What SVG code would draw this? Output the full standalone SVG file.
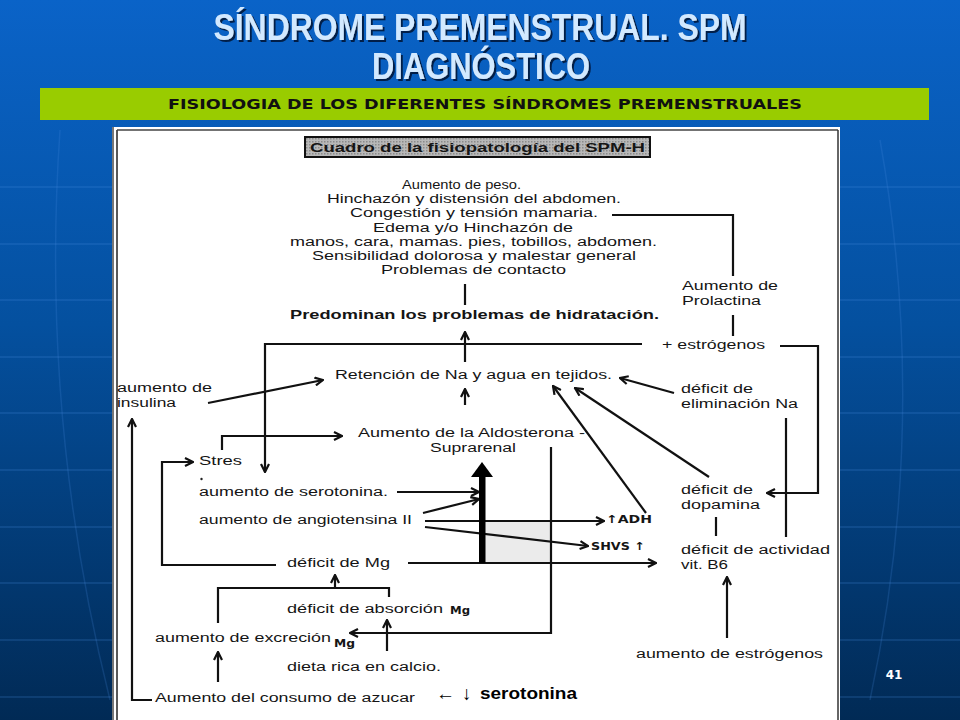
<svg xmlns="http://www.w3.org/2000/svg" width="960" height="720" viewBox="0 0 960 720">
<defs>
<linearGradient id="bg" x1="0" y1="0" x2="0" y2="1">
<stop offset="0" stop-color="#0a63c8"/>
<stop offset="0.45" stop-color="#04509f"/>
<stop offset="1" stop-color="#012a55"/>
</linearGradient>
<pattern id="hatch" width="3" height="3" patternUnits="userSpaceOnUse">
<rect width="3" height="3" fill="#b8b8b8"/>
<rect width="1.5" height="1.5" fill="#8a8a8a"/>
</pattern>
<marker id="ah" viewBox="0 0 10 10" markerWidth="10" markerHeight="10" refX="9" refY="5" orient="auto" markerUnits="userSpaceOnUse">
<path d="M1,1 L9,5 L1,9" fill="none" stroke="#111" stroke-width="2.2"/>
</marker>
<filter id="sh" x="-5%" y="-20%" width="110%" height="140%">
<feDropShadow dx="2" dy="2" stdDeviation="0.6" flood-color="#00183a" flood-opacity="0.9"/>
</filter>
</defs>
<style>
.t{font-family:"Liberation Sans",Arial,sans-serif;font-size:12.5px;fill:#151515}
.b{font-weight:bold}
.hw{font-family:"DejaVu Sans",sans-serif;font-size:11px;font-weight:bold;fill:#151515}
.ln{fill:none;stroke:#111;stroke-width:2.2}
.ar{fill:none;stroke:#111;stroke-width:2.2;marker-end:url(#ah)}
.bgl{stroke:#4a8ee0;stroke-width:1.5;opacity:0.25}
</style>
<rect width="960" height="720" fill="url(#bg)"/>
<g id="background-lines">
<line class="bgl" x1="0" y1="187" x2="960" y2="187"/>
<line class="bgl" x1="0" y1="244" x2="960" y2="244"/>
<line class="bgl" x1="0" y1="300" x2="960" y2="300"/>
<line class="bgl" x1="0" y1="357" x2="960" y2="357"/>
<line class="bgl" x1="0" y1="413" x2="960" y2="413"/>
<line class="bgl" x1="0" y1="470" x2="960" y2="470"/>
<line class="bgl" x1="0" y1="527" x2="960" y2="527"/>
<line class="bgl" x1="0" y1="583" x2="960" y2="583"/>
<line class="bgl" x1="0" y1="640" x2="960" y2="640"/>
<line class="bgl" x1="0" y1="697" x2="960" y2="697"/>
<path d="M60,130 Q40,420 110,700" fill="none" stroke="#4a8ee0" stroke-width="1.5" opacity="0.2"/>
<path d="M880,140 Q930,420 870,700" fill="none" stroke="#4a8ee0" stroke-width="1.5" opacity="0.2"/>
</g>
<g id="title">
<text x="480" y="40" text-anchor="middle" font-family="Liberation Sans,Arial,sans-serif" font-size="36" font-weight="bold" fill="#d2e9ff" filter="url(#sh)" textLength="533" lengthAdjust="spacingAndGlyphs">SÍNDROME PREMENSTRUAL. SPM</text>
<text x="481" y="79" text-anchor="middle" font-family="Liberation Sans,Arial,sans-serif" font-size="36" font-weight="bold" fill="#d2e9ff" filter="url(#sh)" textLength="218" lengthAdjust="spacingAndGlyphs">DIAGNÓSTICO</text>
</g>
<g id="subtitle-bar">
<rect x="40" y="88" width="889" height="32" fill="#99cc00"/>
<text x="485" y="109" text-anchor="middle" font-family="DejaVu Sans,Verdana,sans-serif" font-size="14" font-weight="bold" fill="#111" textLength="634" lengthAdjust="spacingAndGlyphs">FISIOLOGIA DE LOS DIFERENTES SÍNDROMES PREMENSTRUALES</text>
</g>
<g id="scan-frame">
<rect x="112" y="127" width="728" height="593" fill="#ffffff"/>
<line x1="113" y1="127" x2="113" y2="720" stroke="#777" stroke-width="2"/>
<line x1="117" y1="130" x2="117" y2="720" stroke="#222" stroke-width="1.5"/>
<line x1="117" y1="130" x2="838" y2="130" stroke="#444" stroke-width="1.5"/>
<line x1="838" y1="130" x2="838" y2="720" stroke="#333" stroke-width="1.5"/>
<rect x="485" y="521" width="66" height="42" fill="#ebebeb"/>
<circle cx="201.5" cy="479" r="1.2" fill="#222"/>
</g>
<g id="header">
<rect x="305" y="137" width="345" height="20" fill="url(#hatch)" stroke="#111" stroke-width="2"/>
<text class="t b" x="310" y="152" textLength="335" lengthAdjust="spacingAndGlyphs">Cuadro de la fisiopatología del SPM-H</text>
</g>
<g id="symptoms">
<text class="t" x="402" y="189" font-size="13" textLength="119" lengthAdjust="spacingAndGlyphs">Aumento de peso.</text>
<text class="t" x="327" y="203" textLength="294" lengthAdjust="spacingAndGlyphs">Hinchazón y distensión del abdomen.</text>
<text class="t" x="350" y="217" textLength="248" lengthAdjust="spacingAndGlyphs">Congestión y tensión mamaria.</text>
<text class="t" x="373" y="232" textLength="200" lengthAdjust="spacingAndGlyphs">Edema y/o Hinchazón de</text>
<text class="t" x="290" y="246" textLength="367" lengthAdjust="spacingAndGlyphs">manos, cara, mamas. pies, tobillos, abdomen.</text>
<text class="t" x="312" y="260" textLength="324" lengthAdjust="spacingAndGlyphs">Sensibilidad dolorosa y malestar general</text>
<text class="t" x="381" y="274" textLength="185" lengthAdjust="spacingAndGlyphs">Problemas de contacto</text>
</g>
<g id="predominan"><text class="t b" x="290" y="319" textLength="369" lengthAdjust="spacingAndGlyphs">Predominan los problemas de hidratación.</text></g>
<g id="retencion"><text class="t" x="335" y="379" textLength="277" lengthAdjust="spacingAndGlyphs">Retención de Na y agua en tejidos.</text></g>
<g id="aldosterona">
<text class="t" x="358" y="437" textLength="227" lengthAdjust="spacingAndGlyphs">Aumento de la  Aldosterona -</text>
<text class="t" x="430" y="452" textLength="86" lengthAdjust="spacingAndGlyphs">Suprarenal</text>
</g>
<g id="prolactina">
<text class="t" x="682" y="290" textLength="96" lengthAdjust="spacingAndGlyphs">Aumento de</text>
<text class="t" x="682" y="305" textLength="79" lengthAdjust="spacingAndGlyphs">Prolactina</text>
</g>
<g id="estrogenos-plus"><text class="t" x="662" y="349" textLength="103" lengthAdjust="spacingAndGlyphs">+ estrógenos</text></g>
<g id="insulina">
<text class="t" x="117" y="392" textLength="95" lengthAdjust="spacingAndGlyphs">aumento de</text>
<text class="t" x="117" y="407" textLength="59" lengthAdjust="spacingAndGlyphs">insulina</text>
</g>
<g id="eliminacion">
<text class="t" x="681" y="393" textLength="72" lengthAdjust="spacingAndGlyphs">déficit de</text>
<text class="t" x="681" y="408" textLength="117" lengthAdjust="spacingAndGlyphs">eliminación Na</text>
</g>
<g id="stres"><text class="t" x="199" y="465" textLength="43" lengthAdjust="spacingAndGlyphs">Stres</text></g>
<g id="serotonina"><text class="t" x="199" y="496" textLength="189" lengthAdjust="spacingAndGlyphs">aumento de serotonina.</text></g>
<g id="angiotensina"><text class="t" x="199" y="524" textLength="213" lengthAdjust="spacingAndGlyphs">aumento de angiotensina II</text></g>
<g id="adh"><text class="hw" x="606" y="523" textLength="46" lengthAdjust="spacingAndGlyphs">↑ADH</text></g>
<g id="shvs"><text class="hw" x="591" y="550" textLength="54" lengthAdjust="spacingAndGlyphs">SHVS ↑</text></g>
<g id="dopamina">
<text class="t" x="681" y="494" textLength="72" lengthAdjust="spacingAndGlyphs">déficit de</text>
<text class="t" x="681" y="509" textLength="79" lengthAdjust="spacingAndGlyphs">dopamina</text>
</g>
<g id="b6">
<text class="t" x="681" y="554" textLength="149" lengthAdjust="spacingAndGlyphs">déficit de actividad</text>
<text class="t" x="681" y="569" textLength="47" lengthAdjust="spacingAndGlyphs">vit. B6</text>
</g>
<g id="mg"><text class="t" x="287" y="567" textLength="103" lengthAdjust="spacingAndGlyphs">déficit de Mg</text></g>
<g id="absorcion">
<text class="t" x="287" y="613" textLength="156" lengthAdjust="spacingAndGlyphs">déficit de absorción</text>
<text class="hw" x="450" y="614" textLength="20" lengthAdjust="spacingAndGlyphs">Mg</text>
</g>
<g id="excrecion">
<text class="t" x="155" y="642" textLength="176" lengthAdjust="spacingAndGlyphs">aumento de excreción</text>
<text class="hw" x="334" y="647" textLength="21" lengthAdjust="spacingAndGlyphs">Mg</text>
</g>
<g id="calcio"><text class="t" x="287" y="671" textLength="154" lengthAdjust="spacingAndGlyphs">dieta rica en calcio.</text></g>
<g id="estrogenos"><text class="t" x="636" y="658" textLength="187" lengthAdjust="spacingAndGlyphs">aumento de estrógenos</text></g>
<g id="azucar"><text class="t" x="155" y="702" textLength="260" lengthAdjust="spacingAndGlyphs">Aumento del consumo de azucar</text></g>
<g id="serotonina-note">
<text x="436" y="700" font-family="Liberation Sans,Arial,sans-serif" font-size="19" fill="#000">←</text>
<text x="462" y="700" font-family="Liberation Sans,Arial,sans-serif" font-size="19" fill="#000">↓</text>
<text x="480" y="699" font-family="Liberation Sans,Arial,sans-serif" font-size="17" font-weight="bold" fill="#000" textLength="97" lengthAdjust="spacingAndGlyphs">serotonina</text>
</g>
<g id="page-number"><text x="894" y="679" text-anchor="middle" font-family="DejaVu Sans,Verdana,sans-serif" font-size="12" font-weight="bold" fill="#ffffff">41</text></g>
<g id="connectors">
<path class="ln" d="M612,215 H733 V276"/>
<path class="ln" d="M733,315 V336"/>
<path class="ln" d="M465,284 V305"/>
<path class="ar" d="M465,362 V332"/>
<path class="ar" d="M465,405 V389"/>
<path class="ar" d="M642,344 H265 V472"/>
<path class="ar" d="M780,346 H818 V493 H767"/>
<path class="ar" d="M674,393 L620,378"/>
<path class="ar" d="M709,477 L575,388"/>
<path class="ar" d="M646,513 L553,386"/>
<path class="ar" d="M551,447 V633 H350"/>
<path class="ar" d="M208,403 L323,380"/>
<path class="ar" d="M222,450 V436 H342"/>
<path class="ar" d="M276,565 H162 V462 H193"/>
<path class="ar" d="M408,563 H656"/>
<path class="ar" d="M397,492 H479"/>
<path class="ar" d="M423,513 L479,499"/>
<path class="ar" d="M425,521 H604"/>
<path class="ar" d="M425,527 L588,546"/>
<path class="ln" d="M218,623 V588 H389 V597"/>
<path class="ar" d="M335,589 V575"/>
<path class="ar" d="M387,651 V620"/>
<path class="ar" d="M218,682 V652"/>
<path class="ar" d="M152,700 H132 V419"/>
<path class="ln" d="M786,418 V537"/>
<path class="ln" d="M716,517 V536"/>
<path class="ar" d="M727,638 V577"/>
<rect x="479" y="474" width="6.5" height="89" fill="#000"/>
<polygon points="471,477 482,462 493,477" fill="#000"/>
</g>
</svg>
